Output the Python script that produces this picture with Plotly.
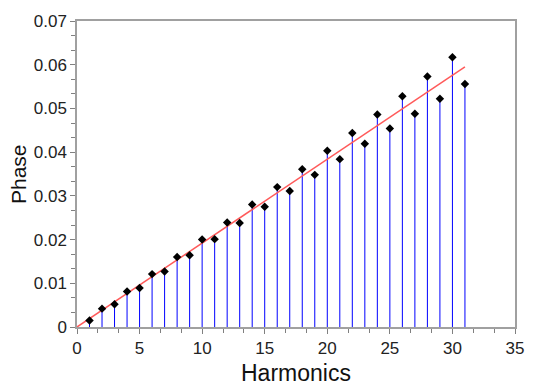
import plotly.graph_objects as go

# Harmonic number and measured phase of each harmonic
harmonics = list(range(1, 32))
phase = [
    0.0015, 0.0042, 0.0052, 0.0081, 0.0089, 0.0121, 0.0127, 0.0160,
    0.0164, 0.0200, 0.0201, 0.0239, 0.0238, 0.0280, 0.0275, 0.0320,
    0.0311, 0.0361, 0.0348, 0.0403, 0.0384, 0.0444, 0.0419, 0.0486,
    0.0454, 0.0528, 0.0488, 0.0573, 0.0522, 0.0617, 0.0556,
]

# Linear trend line endpoints
trend_x = [0, 31]
trend_y = [0, 0.0595]

# Stems: one segment per harmonic, from zero up to its phase value
stem_x, stem_y = [], []
for h, p in zip(harmonics, phase):
    stem_x += [h, h, None]
    stem_y += [0, p, None]

fig = go.Figure()
fig.add_trace(go.Scatter(
    x=stem_x, y=stem_y, mode="lines",
    line=dict(color="#0000ff", width=1), hoverinfo="skip", showlegend=False,
))
fig.add_trace(go.Scatter(
    x=trend_x, y=trend_y, mode="lines",
    line=dict(color="#ff5a5a", width=1.5), showlegend=False,
))
fig.add_trace(go.Scatter(
    x=harmonics, y=phase, mode="markers",
    marker=dict(symbol="diamond", size=6.5, color="black"), showlegend=False,
))

font_family = "Liberation Sans, Arial, sans-serif"

axis_common = dict(
    showline=True, linecolor="#a0a0a0", linewidth=1.5, mirror=True,
    showgrid=False, zeroline=False,
    ticks="outside", ticklen=5, tickcolor="#808080", tickwidth=1,
    tickfont=dict(family=font_family, size=17, color="#222222"),
)

fig.update_xaxes(
    range=[0, 35], dtick=5, tick0=0,
    minor=dict(dtick=5 / 3, ticks="outside", ticklen=4, tickcolor="#808080"),
    **axis_common,
)
fig.update_yaxes(
    range=[0, 0.07], dtick=0.01, tick0=0,
    minor=dict(dtick=0.01 / 3, ticks="outside", ticklen=4, tickcolor="#808080"),
    **axis_common,
)

fig.update_layout(
    width=536, height=390,
    margin=dict(l=77, r=12, t=12, b=63),
    plot_bgcolor="white", paper_bgcolor="white",
    annotations=[
        dict(text="Harmonics", xref="paper", yref="paper", x=0.5, y=0,
             yshift=-46, yanchor="middle", xanchor="center", showarrow=False,
             font=dict(family=font_family, size=23, color="#111111")),
        dict(text="Phase", xref="paper", yref="paper", x=0, y=0.5,
             xshift=-59, yshift=0, textangle=-90, xanchor="center", yanchor="middle",
             showarrow=False,
             font=dict(family=font_family, size=21, color="#111111")),
    ],
)

fig.write_html("out.html")
